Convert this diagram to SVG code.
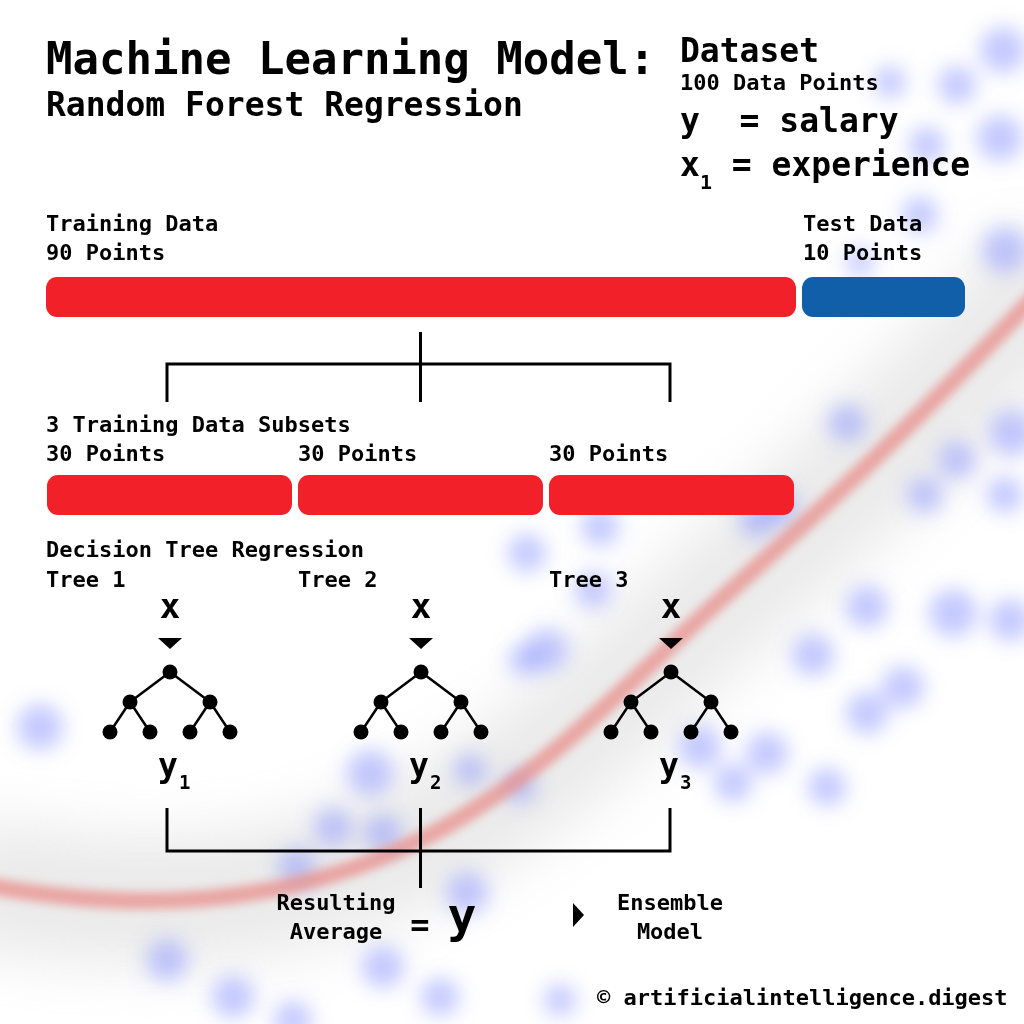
<svg xmlns="http://www.w3.org/2000/svg" width="1024" height="1024" viewBox="0 0 1024 1024">
<defs>
<filter id="blurDot" x="-100%" y="-100%" width="300%" height="300%"><feGaussianBlur stdDeviation="10"/></filter>
<filter id="blurWide" x="-20%" y="-40%" width="140%" height="180%"><feGaussianBlur stdDeviation="28"/></filter>
<filter id="blurLine" x="-10%" y="-20%" width="120%" height="140%"><feGaussianBlur stdDeviation="4"/></filter>
<style>
text{font-family:"DejaVu Sans Mono","Liberation Mono",monospace;font-weight:bold;fill:#000;white-space:pre}
.t22{font-size:22px}
.mid{text-anchor:middle}
.conn{stroke:#000;stroke-width:3;fill:none}
.edge{stroke:#000;stroke-width:2.5}
.red{fill:#f22028}
.blue{fill:#115fa8}
.dots circle{fill:#7d88ff;opacity:0.45}
</style>
<g id="treeShape">
<path class="edge" d="M0 0 L-40 30 M0 0 L40 30 M-40 30 L-60 60 M-40 30 L-20 60 M40 30 L20 60 M40 30 L60 60"/>
<circle cx="0" cy="0" r="7.5"/><circle cx="-40" cy="30" r="7.5"/><circle cx="40" cy="30" r="7.5"/>
<circle cx="-60" cy="60" r="7.5"/><circle cx="-20" cy="60" r="7.5"/><circle cx="20" cy="60" r="7.5"/><circle cx="60" cy="60" r="7.5"/>
</g>
</defs>
<rect width="1024" height="1024" fill="#fff"/>
<g id="background">
<path d="M-40 880 C150 920,300 900,420 840 S620 690,720 600 S900 440,1060 270" fill="none" stroke="#c4c4c4" stroke-width="130" opacity="0.35" filter="url(#blurWide)"/>
<g class="dots" filter="url(#blurDot)">
<circle cx="1003" cy="50" r="23"/><circle cx="957" cy="85" r="19"/><circle cx="890" cy="82" r="16"/>
<circle cx="1000" cy="138" r="23"/><circle cx="927" cy="145" r="18"/><circle cx="1005" cy="250" r="23"/>
<circle cx="920" cy="215" r="18"/><circle cx="860" cy="262" r="14"/><circle cx="1012" cy="433" r="23"/>
<circle cx="847" cy="423" r="19"/><circle cx="957" cy="460" r="19"/><circle cx="925" cy="495" r="18"/>
<circle cx="780" cy="507" r="18"/><circle cx="600" cy="527" r="19"/><circle cx="527" cy="553" r="19"/>
<circle cx="757" cy="520" r="18"/><circle cx="1005" cy="495" r="18"/><circle cx="547" cy="650" r="21"/>
<circle cx="593" cy="590" r="18"/><circle cx="867" cy="607" r="21"/><circle cx="953" cy="613" r="24"/>
<circle cx="1010" cy="620" r="21"/><circle cx="813" cy="655" r="21"/><circle cx="903" cy="687" r="21"/>
<circle cx="867" cy="713" r="21"/><circle cx="700" cy="747" r="21"/><circle cx="767" cy="753" r="21"/>
<circle cx="733" cy="783" r="19"/><circle cx="827" cy="787" r="19"/><circle cx="520" cy="787" r="16"/>
<circle cx="40" cy="727" r="23"/><circle cx="370" cy="773" r="23"/><circle cx="333" cy="827" r="19"/>
<circle cx="297" cy="867" r="19"/><circle cx="383" cy="833" r="19"/><circle cx="167" cy="960" r="21"/>
<circle cx="233" cy="997" r="21"/><circle cx="293" cy="1020" r="19"/><circle cx="383" cy="967" r="21"/>
<circle cx="440" cy="997" r="19"/><circle cx="467" cy="893" r="21"/><circle cx="525" cy="660" r="16"/>
<circle cx="470" cy="770" r="16"/><circle cx="560" cy="1000" r="16"/>
</g>
<path d="M-40 880 C150 920,300 900,420 840 S620 690,720 600 S900 440,1060 270" fill="none" stroke="#e88a86" stroke-width="17" opacity="0.7" filter="url(#blurLine)"/>
</g>

<g id="title">
<text x="46" y="74" style="font-size:44px">Machine Learning Model:</text>
<text x="46" y="116" style="font-size:33px">Random Forest Regression</text>
</g>

<g id="dataset">
<text x="680" y="62" style="font-size:33px">Dataset</text>
<text x="680" y="90" class="t22">100 Data Points</text>
<text x="680" y="132" style="font-size:33px">y  = salary</text>
<text x="680" y="176" style="font-size:33px">x<tspan style="font-size:20px" dy="13">1</tspan><tspan dy="-13"> = experience</tspan></text>
</g>

<g id="training-data">
<text x="46" y="231" class="t22">Training Data</text>
<text x="46" y="260" class="t22">90 Points</text>
<rect class="red" x="46" y="277" width="750" height="40" rx="11"/>
</g>

<g id="test-data">
<text x="803" y="231" class="t22">Test Data</text>
<text x="803" y="260" class="t22">10 Points</text>
<rect class="blue" x="802" y="277" width="163" height="40" rx="11"/>
</g>

<g id="connectors">
<path class="conn" d="M420.5 332 V402 M167 402 V364 H670 V402"/>
<path class="conn" d="M167 808 V851 H670 V808 M420.5 808 V888"/>
</g>

<g id="subsets">
<text x="46" y="432" class="t22">3 Training Data Subsets</text>
</g>
<g id="subset1">
<text x="46" y="461" class="t22">30 Points</text>
<rect class="red" x="47" y="475" width="245" height="40" rx="11"/>
</g>
<g id="subset2">
<text x="298" y="461" class="t22">30 Points</text>
<rect class="red" x="298" y="475" width="245" height="40" rx="11"/>
</g>
<g id="subset3">
<text x="549" y="461" class="t22">30 Points</text>
<rect class="red" x="549" y="475" width="245" height="40" rx="11"/>
</g>

<g id="dtr-label">
<text x="46" y="557" class="t22">Decision Tree Regression</text>
</g>

<g id="tree1">
<text x="46" y="587" class="t22">Tree 1</text>
<text x="170" y="618" class="mid" style="font-size:34px">x</text>
<polygon points="158,638 182,638 170,649"/>
<use href="#treeShape" x="170" y="672"/>
<text x="158" y="777" style="font-size:33px">y<tspan style="font-size:19px" dy="12" dx="1">1</tspan></text>
</g>
<g id="tree2">
<text x="298" y="587" class="t22">Tree 2</text>
<text x="421" y="618" class="mid" style="font-size:34px">x</text>
<polygon points="409,638 433,638 421,649"/>
<use href="#treeShape" x="421" y="672"/>
<text x="409" y="777" style="font-size:33px">y<tspan style="font-size:19px" dy="12" dx="1">2</tspan></text>
</g>
<g id="tree3">
<text x="549" y="587" class="t22">Tree 3</text>
<text x="671" y="618" class="mid" style="font-size:34px">x</text>
<polygon points="659,638 683,638 671,649"/>
<use href="#treeShape" x="671" y="672"/>
<text x="659" y="777" style="font-size:33px">y<tspan style="font-size:19px" dy="12" dx="1">3</tspan></text>
</g>

<g id="result">
<text x="336" y="910" class="t22 mid">Resulting</text>
<text x="336" y="939" class="t22 mid">Average</text>
<text x="420" y="936" class="mid" style="font-size:32px">=</text>
<text x="462" y="932" class="mid" style="font-size:48px">y</text>
</g>

<g id="ensemble">
<polygon points="573,903 584,915 573,927"/>
<text x="670" y="910" class="t22 mid">Ensemble</text>
<text x="670" y="939" class="t22 mid">Model</text>
</g>

<g id="footer">
<text x="597" y="1005" class="t22">© artificialintelligence.digest</text>
</g>
</svg>
